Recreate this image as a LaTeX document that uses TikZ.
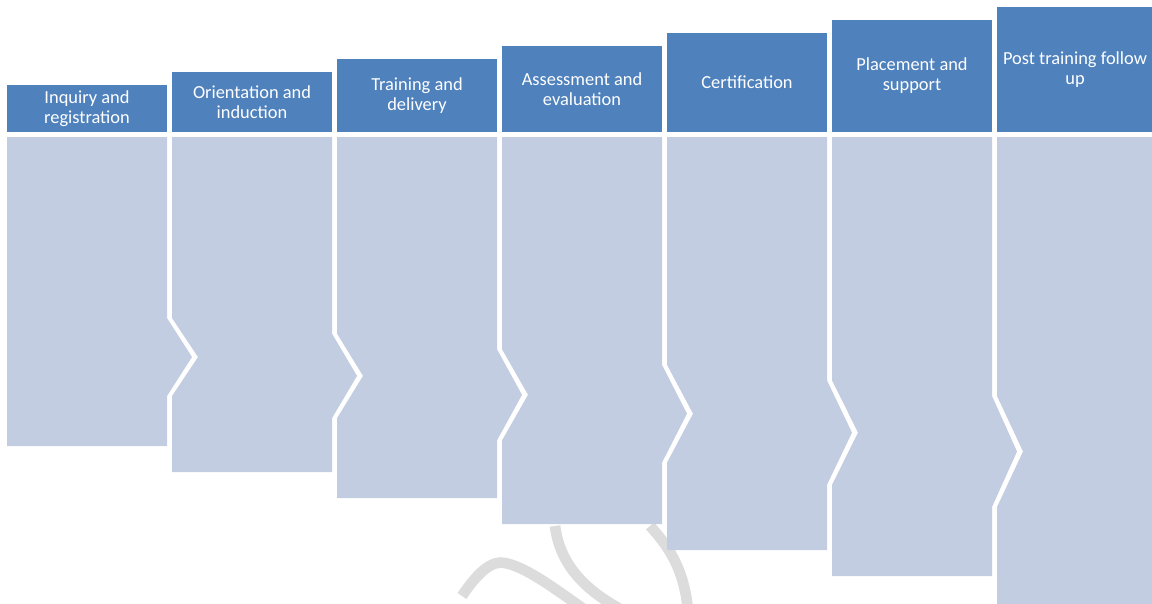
\documentclass[tikz,border=0pt]{standalone}
\usepackage{fontspec}
\setmainfont{Carlito}
\definecolor{hdrblue}{HTML}{4F81BD}
\definecolor{bodyblue}{HTML}{C3CDE2}
\definecolor{wmgray}{HTML}{DCDCDC}
\begin{document}
\begin{tikzpicture}[x=0.75pt,y=-0.75pt,
  hdr/.style={fill=hdrblue, text=white, inner sep=0pt, outer sep=0pt,
    minimum width=120pt, align=center, font=\fontsize{13.8}{15}\selectfont},
  bodyshape/.style={fill=bodyblue},
  wmark/.style={draw=wmgray, line width=8pt}]
\useasboundingbox (0,0) rectangle (1152,603);
% watermark
\draw[wmark] (555,526) .. controls (560,565) and (585,590) .. (622,610);
\draw[wmark] (650,526) .. controls (670,548) and (684,570) .. (688,610);
\draw[wmark] (462,596) .. controls (478,572) and (492,560) .. (505,563) .. controls (525,567) and (550,585) .. (585,610);
% bodies
\fill[bodyshape] (7,137) -- (167,137) -- (167,318) -- (192,357) -- (167,396) -- (167,446) -- (7,446) -- cycle;
\fill[bodyshape] (172,137) -- (332,137) -- (332,333.6) -- (357,375.9) -- (332,418.2) -- (332,472) -- (172,472) -- (172,396) -- (198,357) -- (172,318) -- cycle;
\fill[bodyshape] (337,137) -- (497,137) -- (497,349.2) -- (522,394.8) -- (497,440.4) -- (497,498) -- (337,498) -- (337,418.2) -- (363,375.9) -- (337,333.6) -- cycle;
\fill[bodyshape] (502,137) -- (662,137) -- (662,364.8) -- (687,413.7) -- (662,462.6) -- (662,524) -- (502,524) -- (502,440.4) -- (528,394.8) -- (502,349.2) -- cycle;
\fill[bodyshape] (667,137) -- (827,137) -- (827,380.4) -- (852,432.6) -- (827,484.8) -- (827,550) -- (667,550) -- (667,462.6) -- (693,413.7) -- (667,364.8) -- cycle;
\fill[bodyshape] (832,137) -- (992,137) -- (992,396) -- (1017,451.5) -- (992,507) -- (992,576) -- (832,576) -- (832,484.8) -- (858,432.6) -- (832,380.4) -- cycle;
\fill[bodyshape] (997,137) -- (1153,137) -- (1153,604) -- (997,604) -- (997,507) -- (1023,451.5) -- (997,396) -- cycle;
% headers
\node[hdr, minimum height=35.25pt] (h1) at (87,108.5) {Inquiry and\\registration};
\node[hdr, minimum height=45pt] (h2) at (252,102) {Orientation and\\induction};
\node[hdr, minimum height=54.75pt] (h3) at (417,95.5) {Training and\\delivery};
\node[hdr, minimum height=64.5pt] (h4) at (582,89) {Assessment and\\evaluation};
\node[hdr, minimum height=74.25pt] (h5) at (747,82.5) {Certification};
\node[hdr, minimum height=84pt] (h6) at (912,76) {Placement and\\support};
\node[hdr, minimum height=93.75pt, minimum width=117pt] (h7) at (1075,69.5) {Post training follow\\up};
\end{tikzpicture}
\end{document}
